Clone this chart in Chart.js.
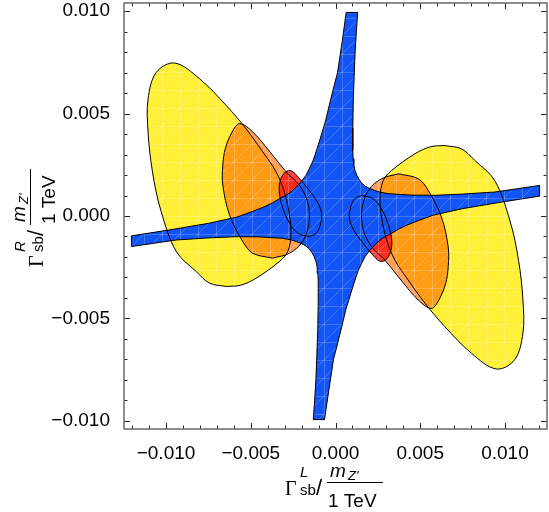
<!DOCTYPE html>
<html>
<head>
<meta charset="utf-8">
<script src="https://cdn.jsdelivr.net/npm/chart.js@4.4.1/dist/chart.umd.min.js"></script>
<style>
  html, body { margin: 0; padding: 0; background: #fff; }
</style>
</head>
<body>
<canvas id="plot" width="549" height="512"></canvas>
<script>
// every value below is in units of 1e-3 (tick labels divide by 1000)
const xRange = [-12.48, 12.48];
const yRange = [-10.4, 10.4];
const majorTicks = [-10, -5, 0, 5, 10];
const xMinorTicks = [-12, -11, -10, -9, -8, -7, -6, -5, -4, -3, -2, -1, 0, 1, 2, 3, 4, 5, 6, 7, 8, 9, 10, 11, 12];
const yMinorTicks = [-10, -9, -8, -7, -6, -5, -4, -3, -2, -1, 0, 1, 2, 3, 4, 5, 6, 7, 8, 9, 10];

// blue cross-shaped region (outline, clockwise from the top)
const blueRegion = [
  [0.63, 9.94], [1.31, 9.94], [1.23, 9.0], [1.16, 8.06], [1.1, 6.8], [1.05, 5.63],
  [1.02, 4.3], [1.02, 3.2], [1.04, 2.8], [1.08, 2.5], [1.15, 2.22], [1.25, 2.0],
  [1.38, 1.8], [1.55, 1.6], [1.75, 1.46], [2.0, 1.35], [2.3, 1.25], [2.6, 1.17],
  [3.12, 1.09], [4.5, 1.02], [5.86, 1.01], [7.5, 1.07], [9.39, 1.17], [12.04, 1.49],
  [12.04, 0.97], [9.8, 0.68], [7.5, 0.36], [5.8, 0.05], [4.9, -0.22], [4.2, -0.45],
  [3.7, -0.65], [3.3, -0.85], [2.9, -1.02], [2.6, -1.2], [2.3, -1.42], [2.0, -1.7],
  [1.75, -1.98], [1.55, -2.3], [1.35, -2.65], [1.2, -3.0], [0.96, -3.62], [0.6, -4.6],
  [0.37, -5.4], [0.1, -6.3], [-0.12, -7.0], [-0.41, -8.6], [-0.65, -9.94],
  [-1.31, -9.94], [-1.23, -9.0], [-1.16, -8.06], [-1.1, -6.8], [-1.05, -5.63],
  [-1.02, -4.3], [-1.02, -3.2], [-1.04, -2.8], [-1.08, -2.5], [-1.15, -2.22], [-1.25, -2.0],
  [-1.38, -1.8], [-1.55, -1.6], [-1.75, -1.46], [-2.0, -1.35], [-2.3, -1.25], [-2.6, -1.17],
  [-3.12, -1.09], [-4.5, -1.02], [-5.86, -1.01], [-7.5, -1.07], [-9.39, -1.17], [-12.04, -1.49],
  [-12.04, -0.97], [-9.8, -0.68], [-7.5, -0.36], [-5.8, -0.05], [-4.9, 0.22], [-4.2, 0.45],
  [-3.7, 0.65], [-3.3, 0.85], [-2.9, 1.02], [-2.6, 1.2], [-2.3, 1.42], [-2.0, 1.7],
  [-1.75, 1.98], [-1.55, 2.3], [-1.35, 2.65], [-1.2, 3.0], [-0.96, 3.62], [-0.6, 4.6],
  [-0.37, 5.4], [-0.1, 6.3], [0.12, 7.0], [0.41, 8.6], [0.63, 9.94]
];

const yellowRight = [
  [6.45, 3.44], [7.43, 3.28], [8.22, 2.71], [9.39, 1.74], [10.3, -0.25], [10.8, -2.16],
  [11.06, -4.10], [11.06, -5.72], [10.57, -7.02], [9.49, -7.47], [8.02, -6.70], [6.45, -5.40],
  [5.28, -4.26], [4.29, -3.13], [3.51, -2.16], [3.02, -1.18], [2.72, -0.05], [2.63, 0.92],
  [2.82, 1.74], [3.31, 2.22], [4.69, 3.04], [5.6, 3.38], [6.45, 3.44]
];
const yellowLeft = [
  [-6.45, -3.44], [-7.43, -3.28], [-8.22, -2.71], [-9.39, -1.74], [-10.3, 0.25], [-10.8, 2.16],
  [-11.06, 4.10], [-11.06, 5.72], [-10.57, 7.02], [-9.49, 7.47], [-8.02, 6.70], [-6.45, 5.40],
  [-5.28, 4.26], [-4.29, 3.13], [-3.51, 2.16], [-3.02, 1.18], [-2.72, 0.05], [-2.63, -0.92],
  [-2.82, -1.74], [-3.31, -2.22], [-4.69, -3.04], [-5.6, -3.38], [-6.45, -3.44]
];

const orangeRight = [
  [3.71, 2.06], [4.88, 1.82], [5.47, 1.25], [6.25, -0.05], [6.65, -1.51], [6.65, -2.48],
  [6.5, -3.3], [6.1, -4.1], [5.66, -4.51], [4.88, -4.10], [3.71, -2.97], [2.92, -2.16],
  [2.14, -1.51], [1.65, -0.70], [1.55, 0.28], [1.94, 1.25], [2.72, 1.82], [3.71, 2.06]
];
const orangeLeft = [
  [-3.71, -2.06], [-4.88, -1.82], [-5.47, -1.25], [-6.25, 0.05], [-6.65, 1.51], [-6.65, 2.48],
  [-6.5, 3.3], [-6.1, 4.1], [-5.66, 4.51], [-4.88, 4.10], [-3.71, 2.97], [-2.92, 2.16],
  [-2.14, 1.51], [-1.65, 0.70], [-1.55, -0.28], [-1.94, -1.25], [-2.72, -1.82], [-3.71, -2.06]
];

const redRight = [
  [1.55, 1.0], [2.2, 0.85], [2.75, 0.3], [3.15, -0.5], [3.32, -1.2], [3.25, -1.75],
  [2.95, -2.15], [2.6, -2.2], [2.2, -1.9], [1.6, -1.3], [1.05, -0.65], [0.82, -0.1],
  [0.9, 0.45], [1.15, 0.85], [1.55, 1.0]
];
const redLeft = [
  [-1.55, -1.0], [-2.2, -0.85], [-2.75, -0.3], [-3.15, 0.5], [-3.32, 1.2], [-3.25, 1.75],
  [-2.95, 2.15], [-2.6, 2.2], [-2.2, 1.9], [-1.6, 1.3], [-1.05, 0.65], [-0.82, 0.1],
  [-0.9, -0.45], [-1.15, -0.85], [-1.55, -1.0]
];

// light mesh lines like the ones in the exported region plot
function mesh(color) {
  const c = document.createElement('canvas');
  c.width = 18; c.height = 18;
  const g = c.getContext('2d');
  g.fillStyle = color;
  g.fillRect(0, 0, 18, 18);
  g.strokeStyle = 'rgba(255,255,255,0.2)';
  g.lineWidth = 1;
  g.beginPath();
  g.moveTo(0, 18); g.lineTo(18, 0);
  g.moveTo(0, 0.5); g.lineTo(18, 0.5);
  g.moveTo(0.5, 0); g.lineTo(0.5, 18);
  g.stroke();
  return g.createPattern(c, 'repeat');
}

const pts = arr => arr.map(p => ({ x: p[0], y: p[1] }));

function fillOnly(arr, color, order) {
  return {
    data: pts(arr), order,
    fill: 'shape', backgroundColor: mesh(color),
    borderColor: 'rgba(0,0,0,0)', borderWidth: 0,
    pointRadius: 0, tension: 0.35
  };
}
function outline(arr, order) {
  return {
    data: pts(arr), order,
    fill: false, borderColor: '#000', borderWidth: 1,
    pointRadius: 0, tension: 0.35
  };
}

const tickLabel = v => {
  const s = (Math.abs(v) / 1000).toFixed(3);
  return v < 0 ? '\u2212' + s : s;
};

const frame = {
  id: 'frame',
  afterDatasetsDraw(chart) {
    const { ctx, chartArea: a, scales: { x, y } } = chart;
    ctx.save();
    ctx.strokeStyle = '#222';
    ctx.lineWidth = 1;
    ctx.beginPath();
    for (const v of xMinorTicks) {
      const p = Math.round(x.getPixelForValue(v)) + 0.5;
      const len = majorTicks.includes(v) ? 6 : 3.5;
      ctx.moveTo(p, a.bottom); ctx.lineTo(p, a.bottom - len);
      ctx.moveTo(p, a.top); ctx.lineTo(p, a.top + len);
    }
    for (const v of yMinorTicks) {
      const p = Math.round(y.getPixelForValue(v)) + 0.5;
      const len = majorTicks.includes(v) ? 6 : 3.5;
      ctx.moveTo(a.left, p); ctx.lineTo(a.left + len, p);
      ctx.moveTo(a.right, p); ctx.lineTo(a.right - len, p);
    }
    ctx.stroke();
    ctx.strokeStyle = '#6a6a6a';
    ctx.lineWidth = 1.5;
    ctx.strokeRect(a.left, a.top, a.right - a.left, a.bottom - a.top);
    ctx.restore();
  }
};

// axis titles:  Γ^L_sb / (m_Z' / 1 TeV)
function drawTitle(ctx, sup) {
  ctx.fillStyle = '#000';
  ctx.textAlign = 'left';
  ctx.textBaseline = 'alphabetic';
  ctx.font = '20px "Liberation Serif"';
  ctx.fillText('\u0393', 0, 0);
  ctx.font = 'italic 15px "Liberation Sans"';
  ctx.fillText(sup, 15, -18.5);
  ctx.font = '15px "Liberation Sans"';
  ctx.fillText('sb', 15, 0);
  ctx.font = '22px "Liberation Sans"';
  ctx.fillText('/', 31, 0);
  ctx.font = 'italic 19px "Liberation Sans"';
  ctx.fillText('m', 45, -18);
  ctx.font = 'italic 13px "Liberation Sans"';
  ctx.fillText("Z'", 63, -15);
  ctx.font = '19px "Liberation Sans"';
  ctx.fillText('1 TeV', 43, 12);
  ctx.fillRect(42, -13, 56, 1);
}

const titles = {
  id: 'titles',
  afterDraw(chart) {
    const ctx = chart.ctx;
    ctx.save();
    ctx.translate(285, 495);
    drawTitle(ctx, 'L');
    ctx.restore();
    ctx.save();
    ctx.translate(43, 267);
    ctx.rotate(-Math.PI / 2);
    drawTitle(ctx, 'R');
    ctx.restore();
  }
};

const noPad = s => { s.paddingTop = 0; s.paddingBottom = 0; s.paddingLeft = 0; s.paddingRight = 0; };

new Chart(document.getElementById('plot'), {
  type: 'line',
  data: {
    datasets: [
      outline(redLeft, 1), outline(redRight, 1),
      outline(orangeLeft, 2), outline(orangeRight, 2),
      outline(yellowLeft, 3), outline(yellowRight, 3),
      {
        data: pts(blueRegion), order: 4,
        fill: 'shape', backgroundColor: mesh('rgb(18,84,245)'),
        borderColor: '#000', borderWidth: 1, pointRadius: 0, tension: 0
      },
      fillOnly(redLeft, 'rgba(255,25,20,0.85)', 5), fillOnly(redRight, 'rgba(255,25,20,0.85)', 5),
      fillOnly(orangeLeft, 'rgba(255,110,0,0.65)', 6), fillOnly(orangeRight, 'rgba(255,110,0,0.65)', 6),
      fillOnly(yellowLeft, 'rgb(255,240,55)', 7), fillOnly(yellowRight, 'rgb(255,240,55)', 7)
    ]
  },
  options: {
    responsive: false,
    animation: false,
    events: [],
    layout: { autoPadding: false, padding: { left: 0, right: 2, top: 3, bottom: 0 } },
    plugins: { legend: { display: false }, tooltip: { enabled: false } },
    scales: {
      x: {
        type: 'linear', min: xRange[0], max: xRange[1],
        grid: { display: false }, border: { display: false },
        afterBuildTicks: s => { s.ticks = majorTicks.map(v => ({ value: v })); },
        afterFit: s => { s.height = 83; noPad(s); },
        ticks: {
          callback: tickLabel, maxRotation: 0, autoSkip: false, padding: 5,
          color: '#000', font: { family: 'Liberation Sans', size: 19 }
        }
      },
      y: {
        type: 'linear', min: yRange[0], max: yRange[1],
        grid: { display: false }, border: { display: false },
        afterBuildTicks: s => { s.ticks = majorTicks.map(v => ({ value: v })); },
        afterFit: s => { s.width = 124; noPad(s); },
        ticks: {
          callback: tickLabel, autoSkip: false, padding: 6,
          color: '#000', font: { family: 'Liberation Sans', size: 19 }
        }
      }
    }
  },
  plugins: [frame, titles]
});
</script>
</body>
</html>
